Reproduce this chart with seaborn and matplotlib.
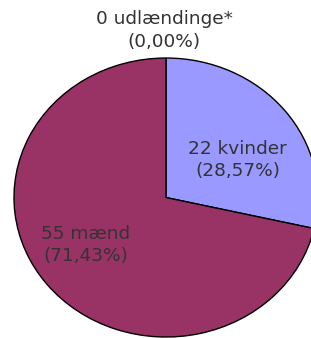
import matplotlib
matplotlib.use("Agg")
import matplotlib.pyplot as plt
import seaborn as sns

# Data
categories = ["udlændinge*", "kvinder", "mænd"]
counts = [0, 22, 55]
shares = ["0,00%", "28,57%", "71,43%"]
colors = ["#ffffff", "#9999ff", "#993366"]

sns.set_theme(style="white")
plt.rcParams['font.family'] = ['DejaVu Sans']

fig = plt.figure(figsize=(3.11, 3.38), dpi=100)
ax = fig.add_axes([0, 0, 1, 1])

ax.pie(counts, colors=colors, startangle=90, counterclock=False,
       wedgeprops=dict(edgecolor="black", linewidth=1))

# the original pie is slightly stretched horizontally and cut at the right
ax.set_aspect("auto")
ax.set_xlim(-1.092, 0.954)
ax.set_ylim(-1.007, 1.416)
ax.axis("off")

# label positions (layout only)
label_pos = [(-0.013, 1.197), (0.47, 0.269), (-0.526, -0.34)]
for cat, n, s, (x, y) in zip(categories, counts, shares, label_pos):
    ax.text(x, y, f"{n} {cat}\n({s})", ha="center", va="center",
            fontsize=13.3, color="#333333", linespacing=1.35)

fig.savefig("out.png", dpi=100)
plt.close(fig)
